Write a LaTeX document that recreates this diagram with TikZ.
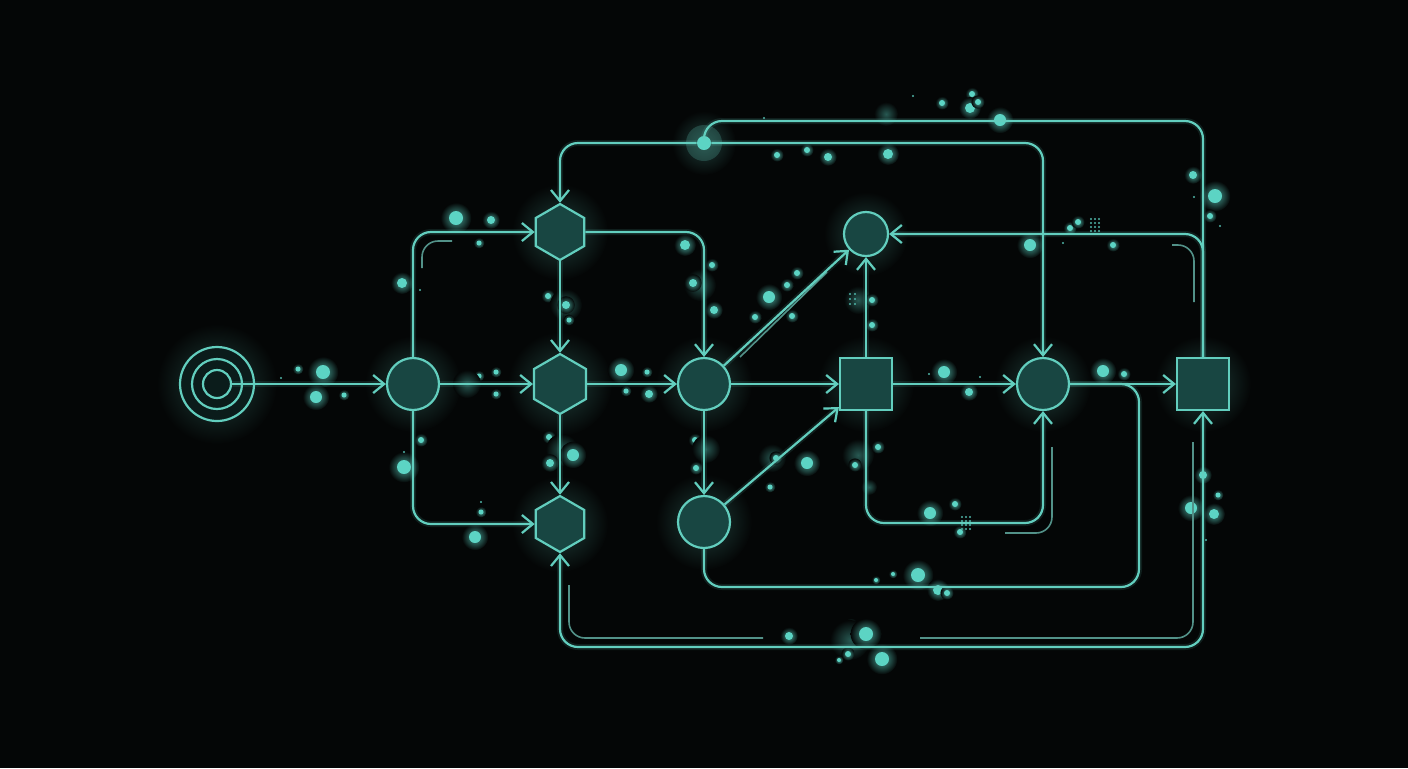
\documentclass[tikz,border=0pt]{standalone}
\usetikzlibrary{arrows.meta,shapes.geometric,calc}
\definecolor{bg}{RGB}{4,6,6}
\definecolor{ln}{RGB}{98,206,190}
\definecolor{nf}{RGB}{24,70,66}
\definecolor{fa}{RGB}{82,145,136}
\definecolor{dc}{RGB}{92,212,196}
\newcommand\glowdot[3]{\shade[inner color=dc!75!bg, outer color=bg] (#1,#2) circle ({#3*1.1pt});\fill[dc] (#1,#2) circle ({#3*0.5pt});}
\newcommand\blob[3]{\shade[inner color=dc!40!bg, outer color=bg] (#1,#2) circle ({#3*0.5pt});}
\newcommand\tinydot[2]{\fill[dc!85!bg] (#1,#2) circle (0.6pt);}
\tikzset{
  conn/.style={draw=ln, line width=1.1pt, rounded corners=9pt, preaction={draw=ln, line width=3pt, opacity=0.12}},
  arr/.style={conn, -{Straight Barb[length=5.5pt,width=9pt,line width=1.1pt]}},
  arrboth/.style={conn, {Straight Barb[length=5.5pt,width=9pt,line width=1.1pt]}-{Straight Barb[length=5.5pt,width=9pt,line width=1.1pt]}},
  faint/.style={draw=fa, line width=0.8pt, rounded corners=8pt},
  circ/.style={circle, draw=ln, fill=nf, line width=1.1pt, minimum size=26pt, inner sep=0pt},
  hexa/.style={regular polygon, regular polygon sides=6, shape border rotate=30, draw=ln, fill=nf, line width=1.1pt, minimum size=28pt, inner sep=0pt},
  sq/.style={rectangle, draw=ln, fill=nf, line width=1.1pt, minimum size=26pt, inner sep=0pt},
  ring/.style={circle, draw=ln, line width=1.1pt, inner sep=0pt},
  nglow/.style={inner color=ln!28!bg, outer color=bg}
}
\begin{document}
\begin{tikzpicture}[x=0.5pt,y=-0.5pt]
\fill[bg] (0,0) rectangle (1408,768);
\useasboundingbox (0,0) rectangle (1408,768);
% positions
\coordinate (pT) at (217,384);
\coordinate (pC1) at (413,384);
\coordinate (pH1) at (560,232);
\coordinate (pH2) at (560,384);
\coordinate (pH3) at (560,524);
\coordinate (pC2) at (704,384);
\coordinate (pC3) at (704,522);
\coordinate (pC4) at (866,234);
\coordinate (pS1) at (866,384);
\coordinate (pC5) at (1043,384);
\coordinate (pS2) at (1203,384);
\coordinate (pJ) at (704,143);
% node glows
\foreach \p/\r in {pT/30pt,pC1/24pt,pH1/24pt,pH2/26pt,pH3/24pt,pC2/24pt,pC3/24pt,pC4/21pt,pS1/24pt,pC5/24pt,pS2/24pt,pJ/16pt}
  \shade[nglow] (\p) circle (\r);
% particles
\glowdot{323}{372}{7}\glowdot{316}{397}{6}\glowdot{298}{369}{2.5}\glowdot{344}{395}{2.5}\tinydot{281}{378}
\glowdot{456}{218}{7}\glowdot{491}{220}{4}\glowdot{479}{243}{2.5}\glowdot{402}{283}{5}\tinydot{420}{290}
\glowdot{421}{440}{3}\glowdot{404}{467}{7}\tinydot{404}{452}\glowdot{475}{537}{6}\glowdot{481}{512}{2.5}\tinydot{481}{502}
\glowdot{479}{376}{2.5}\glowdot{496}{372}{2.5}\glowdot{496}{394}{2.5}\blob{467}{384}{14}
\glowdot{548}{296}{3}\blob{566}{305}{16}\glowdot{566}{305}{4}\glowdot{569}{320}{2.5}
\glowdot{549}{437}{3}\blob{562}{450}{16}\glowdot{573}{455}{6}\glowdot{550}{463}{4}
\glowdot{621}{370}{6}\glowdot{647}{372}{2.5}\glowdot{626}{391}{2.5}\glowdot{649}{394}{4}
\glowdot{685}{245}{5}\glowdot{712}{265}{3}\blob{700}{285}{16}\glowdot{693}{283}{4}\glowdot{714}{310}{4}
\glowdot{695}{440}{3}\blob{706}{449}{14}\glowdot{696}{468}{3}
\glowdot{769}{297}{6}\glowdot{787}{285}{3}\glowdot{797}{273}{3}\glowdot{755}{317}{3}\glowdot{792}{316}{3}
\glowdot{807}{463}{6}\blob{772}{458}{14}\glowdot{776}{458}{3}\glowdot{770}{487}{2.5}
\blob{858}{300}{14}\glowdot{872}{300}{3}\glowdot{872}{325}{3}
\blob{858}{455}{16}\glowdot{878}{447}{3}\glowdot{855}{465}{3}\blob{869}{487}{8}
\glowdot{944}{372}{6}\glowdot{969}{392}{4}\tinydot{929}{374}\tinydot{980}{377}
\glowdot{1103}{371}{6}\glowdot{1124}{374}{3}
\glowdot{930}{513}{6}\glowdot{955}{504}{3}\glowdot{960}{532}{3}
\glowdot{918}{575}{7}\glowdot{938}{590}{5}\glowdot{947}{593}{3}\glowdot{893}{574}{2}\glowdot{876}{580}{2}
\glowdot{789}{636}{4}\glowdot{841}{632}{3}\glowdot{851}{625}{3}\blob{850}{640}{20}\glowdot{866}{634}{7}\glowdot{848}{654}{3}\glowdot{839}{660}{2}\glowdot{882}{659}{7}
\glowdot{777}{155}{3}\glowdot{807}{150}{3}\glowdot{828}{157}{4}\glowdot{888}{154}{5}\blob{886}{114}{12}\glowdot{942}{103}{3}\glowdot{972}{94}{3}\glowdot{970}{108}{5}\glowdot{978}{102}{3}\glowdot{1000}{120}{6}\tinydot{913}{96}\tinydot{764}{118}
\glowdot{1030}{245}{6}\glowdot{1070}{228}{3}\glowdot{1078}{222}{3}\glowdot{1113}{245}{3}\tinydot{1063}{243}
\glowdot{1193}{175}{4}\glowdot{1215}{196}{7}\glowdot{1210}{216}{3}\tinydot{1220}{226}\tinydot{1194}{197}
\glowdot{1191}{508}{6}\glowdot{1203}{475}{4}\glowdot{1218}{495}{2.5}\glowdot{1214}{514}{5}\tinydot{1206}{540}
% textured clusters
\foreach \dx in {0,4,8} \foreach \dy in {0,4,8,12} {\tinydot{962+\dx}{517+\dy}}
\foreach \dx in {0,4,8} \foreach \dy in {0,4,8,12} {\tinydot{1091+\dx}{219+\dy}}
\foreach \dx in {0,5} \foreach \dy in {0,5,10} {\tinydot{850+\dx}{294+\dy}}
% faint decorative lines
\draw[faint] (422,268) |- (452,241);
\draw[faint] (827,272) -- (740,357);
\draw[faint] (1052,447) |- (1005,533);
\draw[faint] (1172,245) -| (1194,302);
\draw[faint] (569,585) |- (763,638);
\draw[faint] (920,638) -| (1193,442);
% nodes
\node[ring, minimum size=37pt, fill=nf!35!bg] (T1) at (pT) {};
\node[ring, minimum size=25pt] (T2) at (pT) {};
\node[ring, minimum size=14pt] (T) at (pT) {};
\node[circ] (C1) at (pC1) {};
\node[hexa] (H1) at (pH1) {};
\node[hexa, minimum size=30pt] (H2) at (pH2) {};
\node[hexa] (H3) at (pH3) {};
\node[circ] (C2) at (pC2) {};
\node[circ] (C3) at (pC3) {};
\node[circ, minimum size=22pt] (C4) at (pC4) {};
\node[sq] (S1) at (pS1) {};
\node[circ] (C5) at (pC5) {};
\node[sq] (S2) at (pS2) {};
\fill[ln, opacity=0.22] (pJ) circle (9pt);
\node[circle, fill=dc, minimum size=7pt, inner sep=0pt] (J) at (pJ) {};
% helper coordinates
\coordinate (m1) at (955,523);
\coordinate (m2) at (1139,587);
\coordinate (m3) at (704,121);
\coordinate (m4) at (880,647);
% connectors
\draw[arr] (T) -- (C1);
\draw[arr] (C1) -- (H2);
\draw[arr] (C1) |- (H1);
\draw[arr] (C1) |- (H3);
\draw[arr] (H1) -- (H2);
\draw[arr] (H2) -- (H3);
\draw[arr] (H1) -| (C2);
\draw[arr] (H2) -- (C2);
\draw[arr] (C2) -- (C3);
\draw[arr] (C2) -- (C4);
\draw[arr] (C2) -- (S1);
\draw[arr] (C3) -- (S1);
\draw[arr] (S1) -- (C4);
\draw[arr] (S1) -- (C5);
\draw[arr] (S1) |- (m1) -| (C5);
\draw[conn] (C5) -| (m2) -| (C3);
\draw[arr] (C5) -- (S2);
\draw[conn] (S2) |- (m3) {[rounded corners=2pt] -- (J)};
\draw[arr] (S2) |- (C4);
\draw[arr] (J) -| (H1);
\draw[arr] (J) -| (C5);
\draw[arrboth] (H3) |- (m4) -| (S2);
\end{tikzpicture}
\end{document}
